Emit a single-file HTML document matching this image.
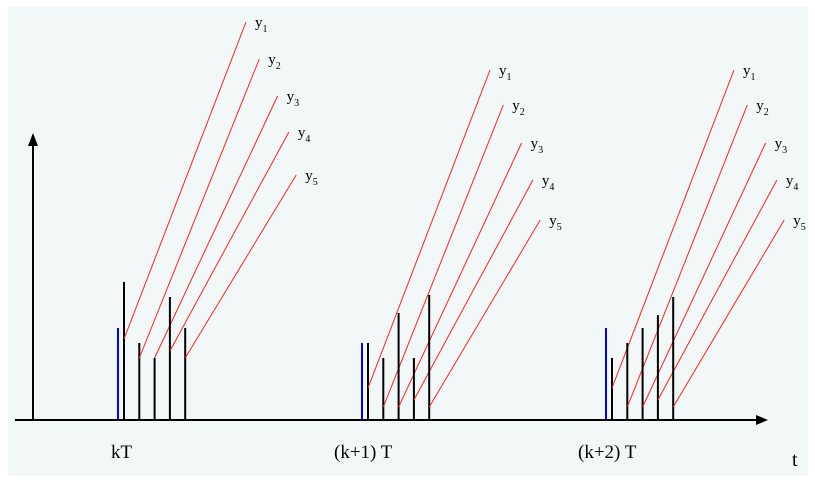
<!DOCTYPE html>
<html><head><meta charset="utf-8"><style>
html,body{margin:0;padding:0;background:#fff;}
svg{display:block;}
text{font-family:"Liberation Serif",serif;fill:#000;}
</style></head><body>
<svg id="chart" width="815" height="481" viewBox="0 0 815 481">
<rect x="8" y="6" width="800" height="470" fill="#f2f8f8"/>
<g id="marks"></g>
<line x1="15" y1="420" x2="758" y2="420" stroke="#000" stroke-width="2"/>
<polygon points="768,420 756,415 756,425" fill="#000"/>
<line x1="33" y1="420" x2="33" y2="143" stroke="#000" stroke-width="2"/>
<polygon points="33,133 28,146 38,146" fill="#000"/>
<text x="792" y="466" font-size="20">t</text>
<g id="xlabels"></g>
</svg>
<script>
const groupLabels = ["kT", "(k+1) T", "(k+2) T"];
const groupTimes = [118, 362, 606];
const blueHeights = [92, 77, 92];
const barHeights = [
  [138, 77, 62, 123, 92],
  [77, 62, 107, 62, 125],
  [62, 77, 92, 105, 123]
];
const redStarts = [
  [81, 62, 62, 69, 62],
  [32, 13, 13, 20, 13],
  [32, 13, 13, 20, 13]
];
const redEnds = [
  [398, 361, 324, 288, 245],
  [350, 315, 277, 240, 200],
  [350, 315, 277, 240, 200]
];
const outputs = ["1","2","3","4","5"];

const NS = "http://www.w3.org/2000/svg";
const base = 420;
const yPx = v => base - v;
const barX = (g, i) => groupTimes[g] + 6 + i * 15.3;
const marks = document.getElementById("marks");
const xl = document.getElementById("xlabels");
const endDx = [122, 120, 123, 119, 111];

groupTimes.forEach((t, g) => {
  const b = document.createElementNS(NS, "line");
  
  
  b.setAttribute("x1", t); b.setAttribute("x2", t);
  b.setAttribute("y1", base); b.setAttribute("y2", yPx(blueHeights[g]));
  b.setAttribute("stroke", "#0000ff"); b.setAttribute("stroke-width", "2");
  marks.appendChild(b);
  barHeights[g].forEach((h, i) => {
    const x = barX(g, i);
    const l = document.createElementNS(NS, "line");
    
    
    l.setAttribute("x1", x); l.setAttribute("x2", x);
    l.setAttribute("y1", base); l.setAttribute("y2", yPx(h));
    l.setAttribute("stroke", "#000"); l.setAttribute("stroke-width", "2");
    marks.appendChild(l);
    const ex = x + endDx[i], ey = yPx(redEnds[g][i]);
    const r = document.createElementNS(NS, "line");
    
    
    r.setAttribute("x1", x); r.setAttribute("y1", yPx(redStarts[g][i]));
    r.setAttribute("x2", ex); r.setAttribute("y2", ey);
    r.setAttribute("stroke", "#ff2020"); r.setAttribute("stroke-width", "1");
    marks.appendChild(r);
    const tx = document.createElementNS(NS, "text");
    
    
    tx.setAttribute("x", ex + 9); tx.setAttribute("y", ey + 5);
    tx.setAttribute("font-size", "15");
    tx.innerHTML = 'y<tspan font-size="10" dy="5">' + outputs[i] + '</tspan>';
    marks.appendChild(tx);
  });
  const lab = document.createElementNS(NS, "text");
  
  
  lab.setAttribute("x", t + (g === 0 ? -7 : -28)); lab.setAttribute("y", 458);
  lab.setAttribute("font-size", "19");
  lab.textContent = groupLabels[g];
  xl.appendChild(lab);
});
</script>
</body></html>
